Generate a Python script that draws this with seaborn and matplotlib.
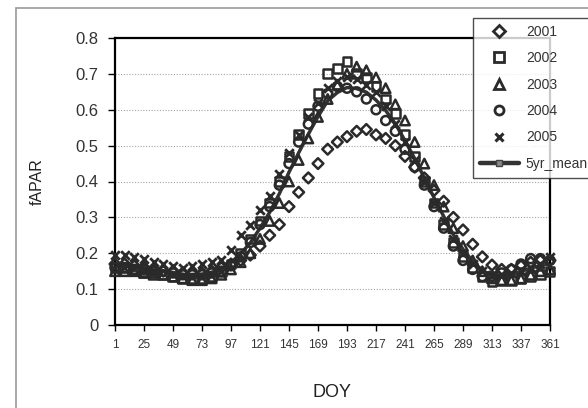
import matplotlib
matplotlib.use("Agg")
import matplotlib.pyplot as plt
import seaborn as sns
import pandas as pd
from matplotlib.lines import Line2D

doy = [1, 9, 17, 25, 33, 41, 49, 57, 65, 73, 81, 89, 97, 105, 113, 121, 129, 137,
       145, 153, 161, 169, 177, 185, 193, 201, 209, 217, 225, 233, 241, 249, 257,
       265, 273, 281, 289, 297, 305, 313, 321, 329, 337, 345, 353, 361]

y2001 = [0.17, 0.17, 0.165, 0.16, 0.155, 0.15, 0.15, 0.145, 0.145, 0.145,
         0.15, 0.16, 0.17, 0.18, 0.195, 0.22, 0.25, 0.28, 0.33, 0.37,
         0.41, 0.45, 0.49, 0.51, 0.525, 0.54, 0.545, 0.53, 0.52, 0.50,
         0.47, 0.44, 0.41, 0.375, 0.345, 0.30, 0.265, 0.225, 0.19, 0.167,
         0.155, 0.155, 0.165, 0.175, 0.18, 0.18]
y2002 = [0.16, 0.16, 0.155, 0.15, 0.145, 0.14, 0.135, 0.13, 0.13, 0.13,
         0.135, 0.15, 0.17, 0.20, 0.24, 0.29, 0.34, 0.40, 0.47, 0.53,
         0.59, 0.645, 0.70, 0.715, 0.735, 0.70, 0.69, 0.665, 0.63, 0.59,
         0.53, 0.47, 0.40, 0.34, 0.28, 0.23, 0.19, 0.16, 0.135, 0.12,
         0.125, 0.125, 0.13, 0.135, 0.14, 0.15]
y2003 = [0.15, 0.15, 0.15, 0.145, 0.14, 0.14, 0.135, 0.13, 0.125, 0.125,
         0.13, 0.14, 0.155, 0.175, 0.20, 0.24, 0.29, 0.34, 0.40, 0.46,
         0.52, 0.58, 0.63, 0.67, 0.70, 0.72, 0.71, 0.69, 0.66, 0.615,
         0.57, 0.51, 0.45, 0.39, 0.33, 0.27, 0.22, 0.18, 0.15, 0.13,
         0.125, 0.125, 0.13, 0.14, 0.15, 0.155]
y2004 = [0.16, 0.16, 0.155, 0.155, 0.15, 0.15, 0.145, 0.14, 0.14, 0.14,
         0.145, 0.15, 0.165, 0.19, 0.23, 0.28, 0.33, 0.39, 0.45, 0.51,
         0.56, 0.61, 0.645, 0.665, 0.66, 0.65, 0.63, 0.60, 0.57, 0.54,
         0.49, 0.44, 0.39, 0.33, 0.27, 0.22, 0.18, 0.155, 0.135, 0.135,
         0.145, 0.155, 0.17, 0.185, 0.185, 0.18]
y2005 = [0.195, 0.195, 0.19, 0.185, 0.175, 0.17, 0.165, 0.16, 0.165, 0.17,
         0.175, 0.18, 0.21, 0.25, 0.28, 0.32, 0.36, 0.42, 0.48, 0.53,
         0.58, 0.62, 0.66, 0.68, 0.69, 0.685, 0.67, 0.65, 0.61, 0.56,
         0.51, 0.46, 0.40, 0.34, 0.29, 0.24, 0.20, 0.17, 0.15, 0.14,
         0.14, 0.145, 0.15, 0.16, 0.17, 0.19]
y_mean = [0.167, 0.167, 0.163, 0.159, 0.153, 0.150, 0.146, 0.141, 0.141, 0.142,
          0.147, 0.156, 0.174, 0.199, 0.229, 0.270, 0.314, 0.366, 0.426, 0.480,
          0.532, 0.581, 0.625, 0.648, 0.662, 0.659, 0.649, 0.627, 0.598, 0.561,
          0.514, 0.464, 0.410, 0.355, 0.303, 0.252, 0.211, 0.178, 0.152, 0.138,
          0.138, 0.141, 0.149, 0.159, 0.165, 0.171]

xticks = [1, 25, 49, 73, 97, 121, 145, 169, 193, 217, 241, 265, 289, 313, 337, 361]
yticks = [0, 0.1, 0.2, 0.3, 0.4, 0.5, 0.6, 0.7, 0.8]
ytick_labels = ["0", "0.1", "0.2", "0.3", "0.4", "0.5", "0.6", "0.7", "0.8"]

series = [("2001", y2001, "D", 30), ("2002", y2002, "s", 40),
          ("2003", y2003, "^", 46), ("2004", y2004, "o", 42),
          ("2005", y2005, "x", 38)]

sns.set_theme(style="white")
plt.rcParams["font.family"] = ["Liberation Sans", "DejaVu Sans"]

fig = plt.figure(figsize=(5.88, 4.08), dpi=100)
ax = fig.add_axes([115 / 588, 1 - 325 / 408, 435 / 588, 287 / 408])

ink = "#2a2a2a"
dfm = pd.DataFrame({"DOY": doy, "fAPAR": y_mean})
sns.lineplot(data=dfm, x="DOY", y="fAPAR", color="#333333", linewidth=2.5,
             ax=ax, zorder=2, clip_on=False)

for name, vals, mk, sz in series:
    df = pd.DataFrame({"DOY": doy, "fAPAR": vals})
    if mk == "x":
        sns.scatterplot(data=df, x="DOY", y="fAPAR", marker=mk, s=sz, color=ink,
                        linewidth=2.0, ax=ax, clip_on=False, zorder=3)
    else:
        sns.scatterplot(data=df, x="DOY", y="fAPAR", marker=mk, s=sz,
                        facecolor="none", edgecolor=ink, linewidth=1.8,
                        ax=ax, clip_on=False, zorder=3)

ax.set_xlim(1, 361)
ax.set_ylim(0, 0.8)
ax.set_xticks(xticks)
ax.set_xticklabels([str(t) for t in xticks], fontsize=8.5, color="#333333")
ax.set_yticks(yticks)
ax.set_yticklabels(ytick_labels, fontsize=12, color="#333333")
ax.tick_params(axis="y", direction="out", length=5, width=1, color="black", pad=7, left=True)
ax.tick_params(axis="x", direction="out", length=4, width=1, color="black", pad=6, bottom=True)

for y in yticks[1:-1]:
    ax.axhline(y, color="#a5a5a5", linestyle=(0, (1, 1.5)), linewidth=0.8, zorder=1)

for sp in ax.spines.values():
    sp.set_visible(True)
    sp.set_color("black")
    sp.set_linewidth(1.6)

ax.set_xlabel("DOY", fontsize=13, color="#222222", labelpad=24)
ax.set_ylabel("fAPAR", fontsize=11.5, color="#222222", labelpad=22)

# outer chart frame
fig.add_artist(Line2D([16 / 588, 16 / 588], [0, 1 - 8 / 408], transform=fig.transFigure,
                      color="#9a9a9a", linewidth=1.2))
fig.add_artist(Line2D([16 / 588, 1], [1 - 8 / 408, 1 - 8 / 408], transform=fig.transFigure,
                      color="#9a9a9a", linewidth=1.2))

handles = []
for name, vals, mk, sz in series:
    if mk == "x":
        h = Line2D([], [], marker=mk, linestyle="none", color=ink, markersize=6,
                   markeredgewidth=2.2)
    else:
        h = Line2D([], [], marker=mk, linestyle="none", markerfacecolor="white",
                   markeredgecolor=ink, markersize=6.5, markeredgewidth=2.0)
    handles.append(h)
handles.append(Line2D([], [], color="#333333", linewidth=3.2, marker="s",
                      markersize=4, markerfacecolor="#888888", markeredgecolor="#444444"))
labels = [s[0] for s in series] + ["5yr_mean"]

leg = fig.legend(handles, labels, loc="upper left",
                 bbox_to_anchor=(473 / 588, 1 - 18 / 408),
                 bbox_transform=fig.transFigure, frameon=True, fancybox=False,
                 edgecolor="#222222", fontsize=10, handlelength=2.8,
                 handletextpad=0.5, labelspacing=0.89, borderpad=0.5,
                 borderaxespad=0)
leg.get_frame().set_linewidth(1.0)
for t in leg.get_texts():
    t.set_color("#333333")

fig.savefig("out.png", dpi=100, facecolor="white")
